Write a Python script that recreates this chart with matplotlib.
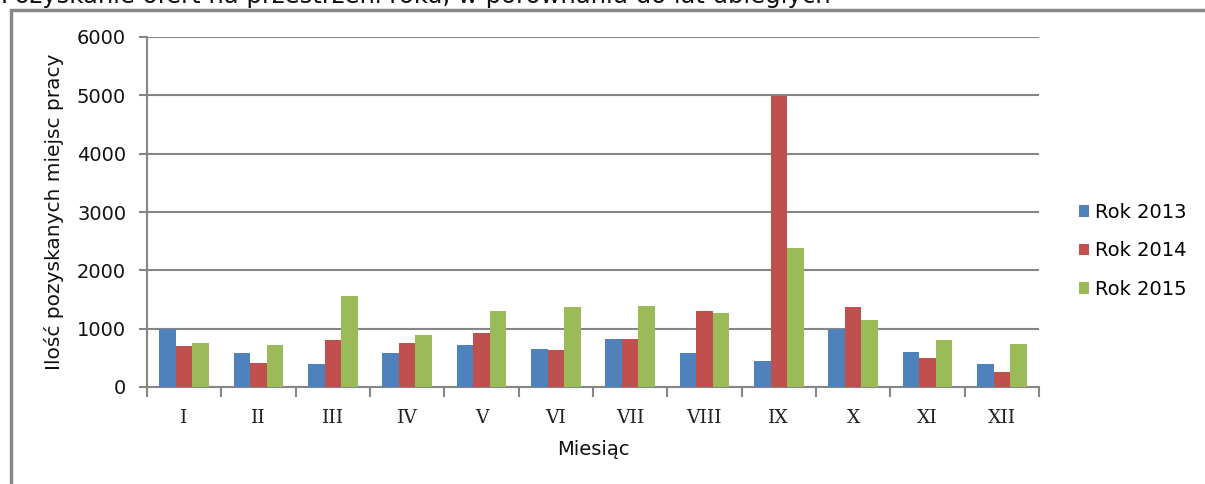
import matplotlib
matplotlib.use("Agg")
import matplotlib.pyplot as plt
from matplotlib.patches import Rectangle
import numpy as np

plt.rcParams["font.family"] = ["DejaVu Sans"]

# data
months = ["I", "II", "III", "IV", "V", "VI", "VII", "VIII", "IX", "X", "XI", "XII"]
rok_2013 = [990, 585, 390, 585, 725, 655, 830, 585, 440, 1000, 600, 390]
rok_2014 = [705, 405, 810, 760, 920, 635, 830, 1305, 4990, 1375, 495, 250]
rok_2015 = [760, 725, 1555, 900, 1305, 1375, 1395, 1270, 2375, 1145, 810, 740]
series = [("Rok 2013", rok_2013, "#4F81BD"),
          ("Rok 2014", rok_2014, "#C0504D"),
          ("Rok 2015", rok_2015, "#9BBB59")]

W, H = 1205, 484
fig = plt.figure(figsize=(W / 100, H / 100), dpi=100)
fig.patch.set_facecolor("white")

# outer frame of the chart (partly cut off in the source)
fig.add_artist(Rectangle((11 / W, -0.1), (W + 20) / W, (H - 10) / H + 0.1,
                         transform=fig.transFigure, fill=False,
                         edgecolor="#888888", linewidth=2.5))
# cut-off title line at the very top
fig.text(0.001, 1 - 3 / H, "Pozyskanie ofert na przestrzeni roku, w porównaniu do lat ubiegłych",
         fontsize=17.5, va="baseline", ha="left", color="#111111")

ax = fig.add_axes([147 / W, 1 - 387 / H, (1039 - 147) / W, (387 - 37) / H])

x = np.arange(len(months))
bw = 1 / 4.5
for i, (name, vals, col) in enumerate(series):
    ax.bar(x + (i - 1) * bw, vals, width=bw, color=col, label=name, zorder=3)

ax.set_xlim(-0.5, len(months) - 0.5)
ax.set_ylim(0, 6000)
ax.set_yticks(range(0, 6001, 1000))
ax.yaxis.grid(True, color="#868686", linewidth=1.5, zorder=0)
ax.set_axisbelow(True)

ax.set_xticks(x)
ax.set_xticklabels(months, fontsize=13.5, fontfamily="DejaVu Serif", color="#222222")
ax.set_xticks(np.arange(-0.5, len(months)), minor=True)
ax.tick_params(axis="x", which="major", length=0, pad=16)
ax.tick_params(axis="x", which="minor", length=7, width=1.5, color="#868686", direction="out")
ax.tick_params(axis="y", length=6, width=1.5, color="#868686", labelsize=14, pad=9,
               labelcolor="#111111")

for s in ["top", "right"]:
    ax.spines[s].set_visible(False)
ax.spines["left"].set_color("#868686")
ax.spines["left"].set_linewidth(1.5)
ax.spines["bottom"].set_color("#868686")
ax.spines["bottom"].set_linewidth(1.5)

ax.set_xlabel("Miesiąc", fontsize=14, labelpad=9, color="#111111")
ax.set_ylabel("Ilość pozyskanych miejsc pracy", fontsize=14.5, labelpad=9, color="#111111")

ax.legend(loc="center left", bbox_to_anchor=(1.025, 0.389), frameon=False,
          fontsize=14, handlelength=0.55, handleheight=0.55, handletextpad=0.3,
          labelspacing=1.0)

fig.savefig("out.png", dpi=100)
